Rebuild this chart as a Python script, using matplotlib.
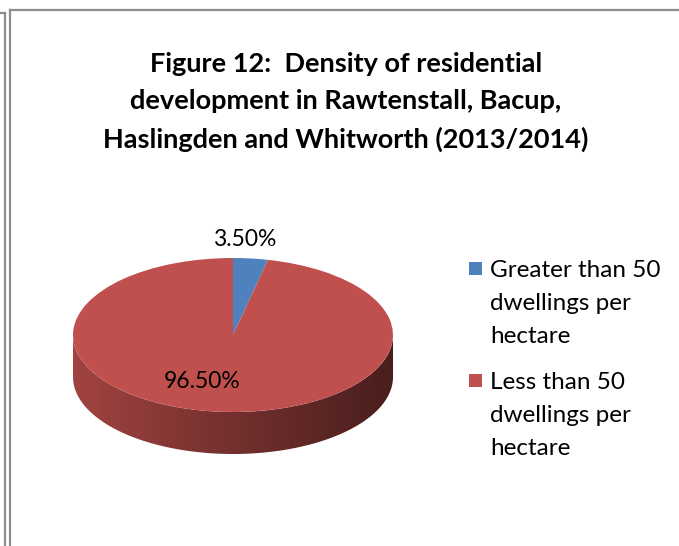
import numpy as np
import matplotlib.pyplot as plt
from matplotlib.colors import to_rgb, LinearSegmentedColormap
from matplotlib.patches import Polygon, Rectangle
from matplotlib.lines import Line2D

# Daten
categories = ["Greater than 50\ndwellings per\nhectare", "Less than 50\ndwellings per\nhectare"]
values = [3.5, 96.5]
colors = ["#4F81BD", "#C0504D"]
title = "Figure 12:  Density of residential\ndevelopment in Rawtenstall, Bacup,\nHaslingden and Whitworth (2013/2014)"

W, H = 679, 546
fig = plt.figure(figsize=(W / 100, H / 100), dpi=100)
font = "Lato"

def px(x, y):
    # Pixel -> Figure-Koordinaten
    return x / W, 1 - y / H

# Rahmenlinien
grey = "#8c8c8c"
fig.add_artist(Line2D([px(4.5, 0)[0]] * 2, [px(0, 13)[1], 0], color=grey, lw=1.6))
fig.add_artist(Line2D([0, px(4.5, 0)[0]], [px(0, 13)[1]] * 2, color=grey, lw=1.6))
fig.add_artist(Line2D([px(9.5, 0)[0]] * 2, [px(0, 10)[1], 0], color=grey, lw=1.6))
fig.add_artist(Line2D([px(9.5, 0)[0], 1], [px(0, 10)[1]] * 2, color=grey, lw=1.6))

fig.text(*px(346, 102), title, ha="center", va="center", fontsize=19.5,
         fontweight="bold", family=font, linespacing=1.67)

# Kreisdiagramm (3D-Optik)
cx, cy, rx, ry, depth = 233, 335, 160, 77, 42
y_top, y_bot = 1.1, -1.7
left, right = cx - rx, cx + rx
top_px = cy - y_top * ry
bot_px = cy - y_bot * ry
ax = fig.add_axes([left / W, 1 - bot_px / H, (right - left) / W, (bot_px - top_px) / H])
wedges, _ = ax.pie(values, colors=colors, startangle=90, counterclock=False,
                   wedgeprops=dict(linewidth=0))
ax.set_aspect("auto")
ax.set_xlim(-1, 1)
ax.set_ylim(y_bot, y_top)
ax.axis("off")

d = depth / ry
for w, c in zip(wedges, colors):
    t1, t2 = sorted([w.theta1, w.theta2])
    base = np.array(to_rgb(c))
    cmap = LinearSegmentedColormap.from_list("side", [base * 0.84, base * 0.6, base * 0.38])
    # Teil der Seitenflaeche in der unteren Haelfte
    for k in range(-1, 2):
        lo, hi = max(t1, 180 + 360 * k), min(t2, 360 + 360 * k)
        if hi <= lo:
            continue
        ts = np.radians(np.linspace(lo, hi, 300))
        top = np.column_stack([np.cos(ts), np.sin(ts)])
        bottom = top[::-1] - [0, d]
        poly = Polygon(np.vstack([top, bottom]), closed=True, facecolor="none",
                       edgecolor="none")
        ax.add_patch(poly)
        grad = np.linspace(0, 1, 256).reshape(1, -1)
        im = ax.imshow(grad, cmap=cmap, extent=[-1, 1, -1 - d, 0], aspect="auto",
                       zorder=0, interpolation="bilinear")
        im.set_clip_path(poly)

fig.text(*px(245, 240), f"{values[0]:.2f}%", ha="center", va="center", fontsize=16.5, family=font)
fig.text(*px(202, 381), f"{values[1]:.2f}%", ha="center", va="center", fontsize=16.5, family=font)

# Legende
for i, (lab, c) in enumerate(zip(categories, colors)):
    y0 = 262 + i * 112
    fig.add_artist(Rectangle(px(469, y0 + 13), 13 / W, 13 / H, facecolor=c, edgecolor="none"))
    fig.text(*px(490, y0 - 2), lab, ha="left", va="top", fontsize=17.5, family=font,
             linespacing=1.72)

fig.savefig("out.png", dpi=100)
